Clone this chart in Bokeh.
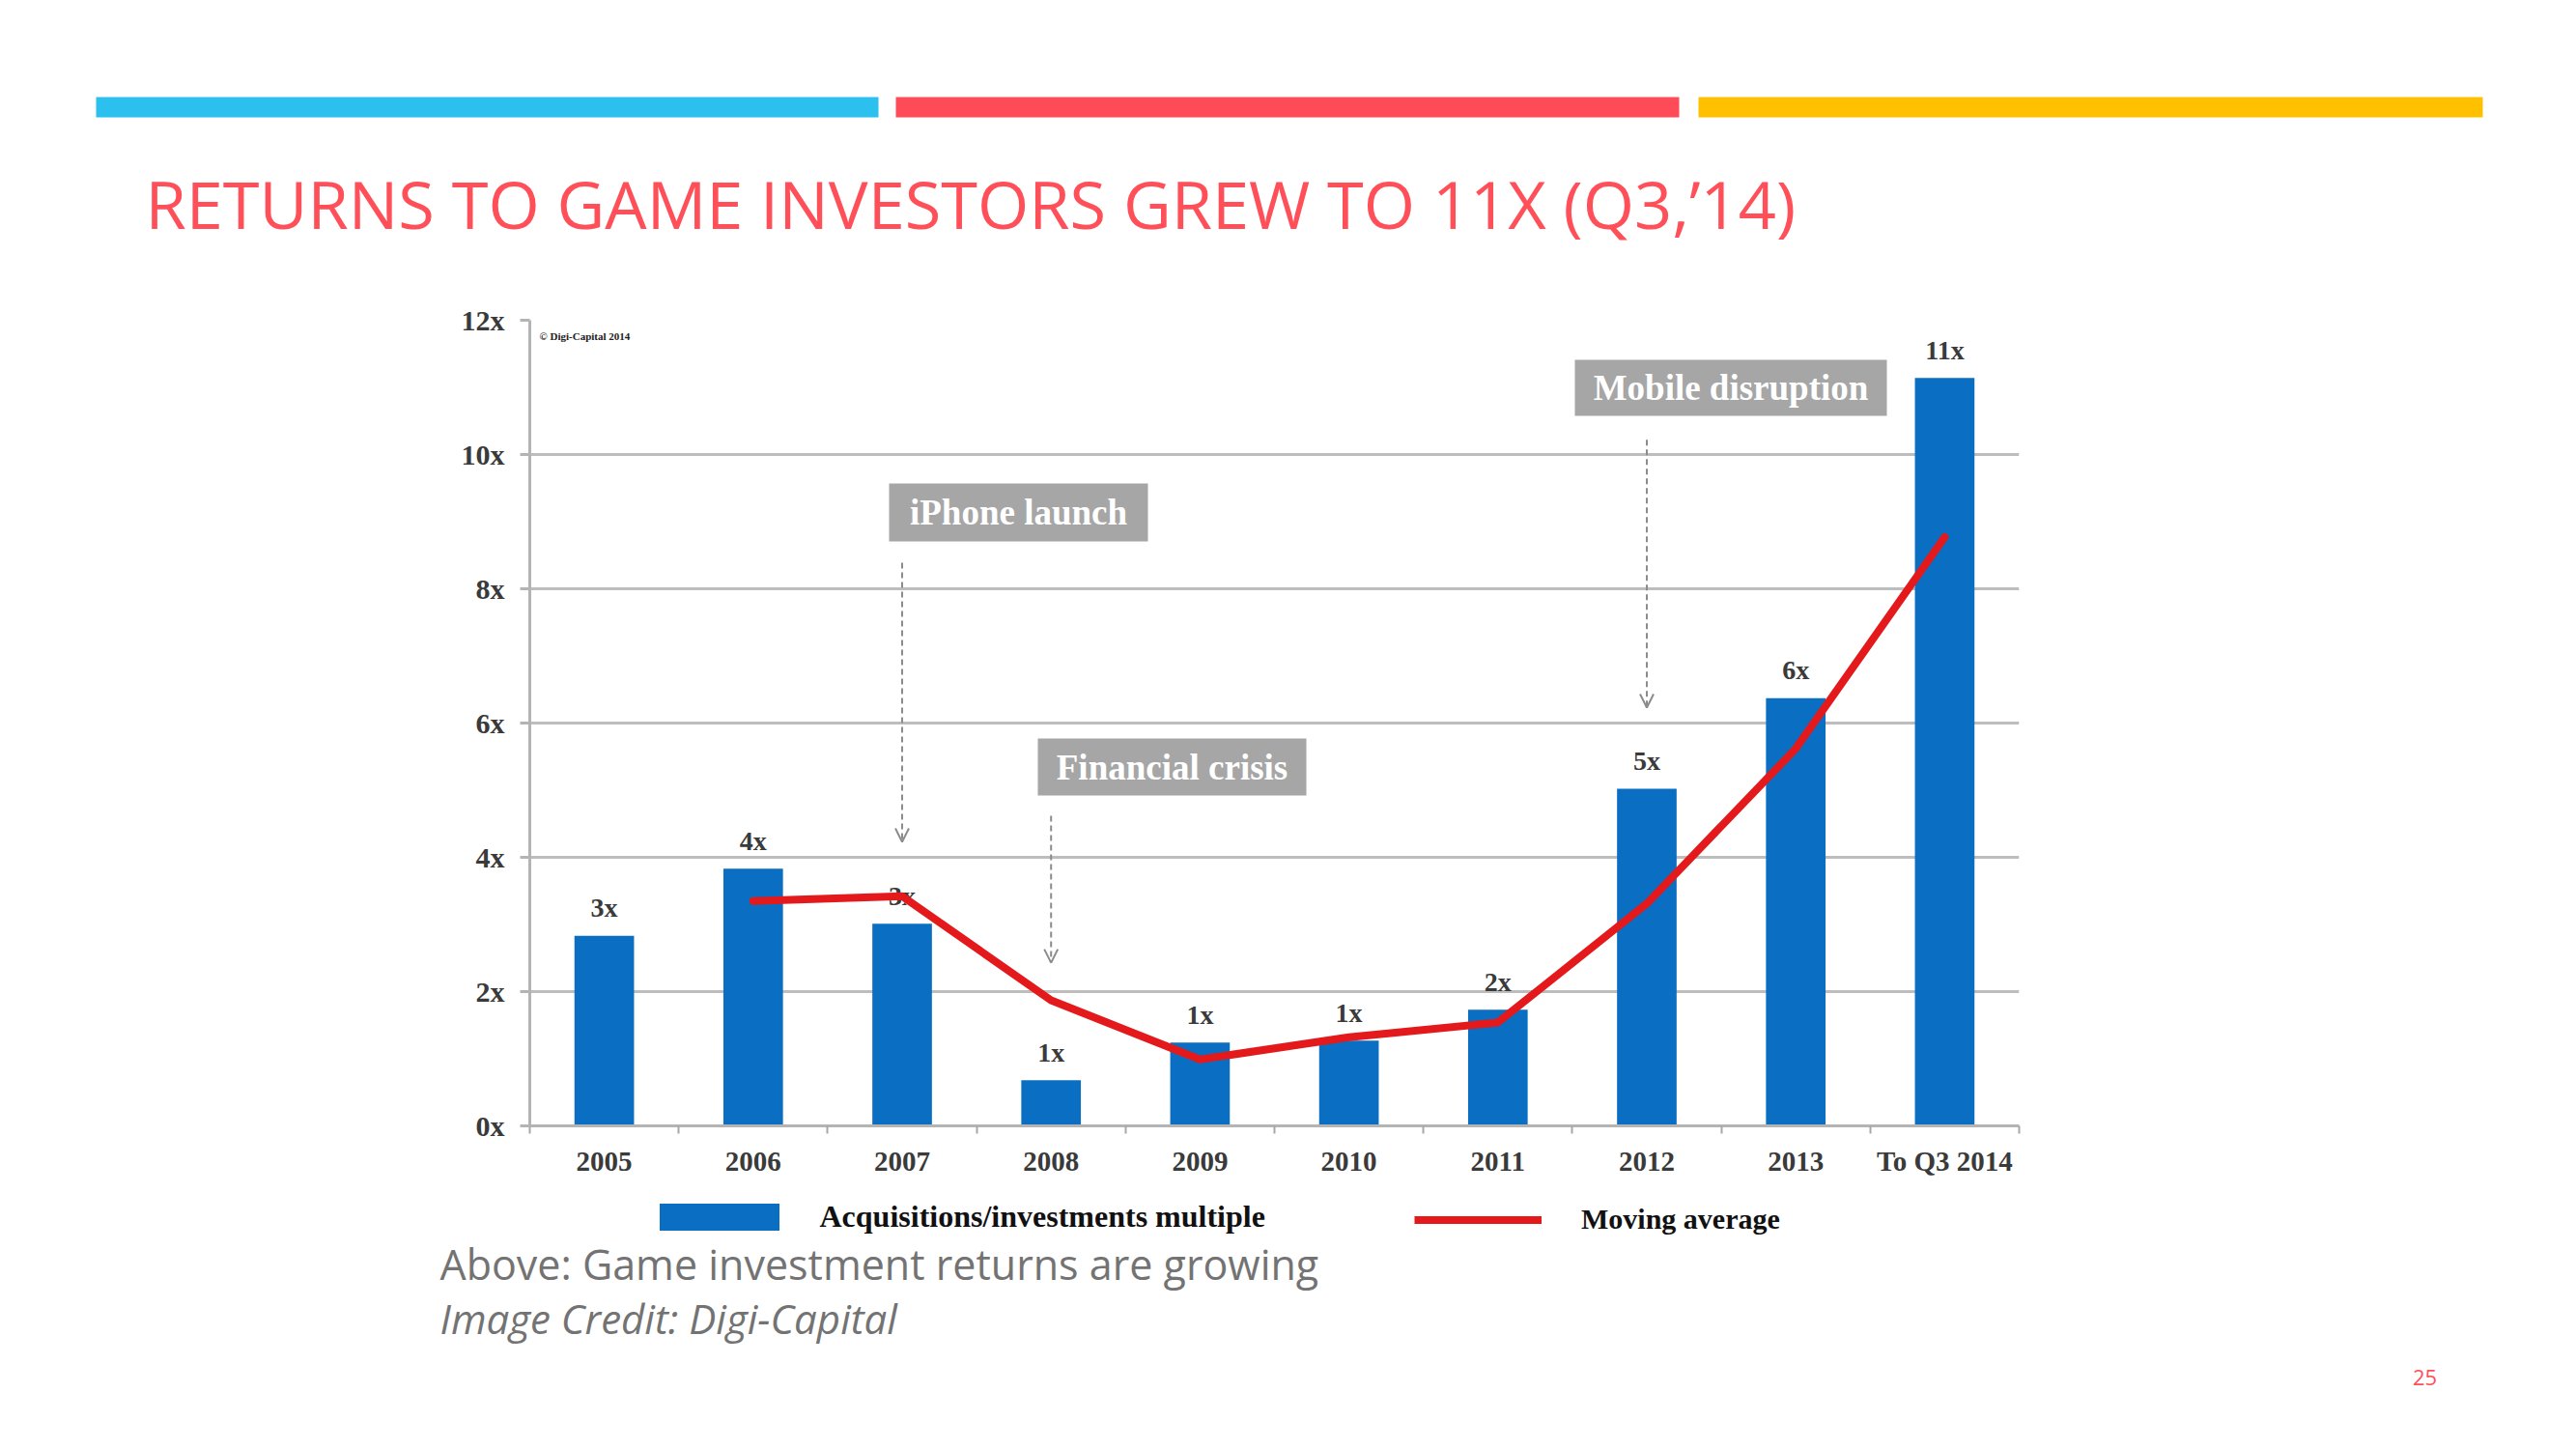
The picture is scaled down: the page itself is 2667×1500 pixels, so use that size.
from bokeh.plotting import figure
from bokeh.layouts import column
from bokeh.models import (Range1d, FixedTicker, Label, BoxAnnotation, Arrow, OpenHead,
                          Legend, LegendItem, ColumnDataSource)
from bokeh.core.properties import value
from bokeh.embed import file_html
from bokeh.resources import INLINE

# ---------------- data ----------------
categories = ["2005", "2006", "2007", "2008", "2009", "2010", "2011", "2012", "2013", "To Q3 2014"]
multiples = [2.83, 3.83, 3.01, 0.68, 1.24, 1.27, 1.73, 5.02, 6.37, 11.14]
bar_labels = ["3x", "4x", "3x", "1x", "1x", "1x", "2x", "5x", "6x", "11x"]
moving_avg = [float("nan"), 3.35, 3.42, 1.87, 0.99, 1.32, 1.54, 3.31, 5.62, 8.77]
y_ticks = [0, 2, 4, 6, 8, 10, 12]
y_tick_labels = ["0x", "2x", "4x", "6x", "8x", "10x", "12x"]
events = ["iPhone launch", "Financial crisis", "Mobile disruption"]
event_categories = ["2007", "2008", "2012"]
series_names = ["Acquisitions/investments multiple", "Moving average"]

title_text = "RETURNS TO GAME INVESTORS GREW TO 11X (Q3,\u201914)"
caption_text = "Above: Game investment returns are growing"
credit_text = "Image Credit: Digi-Capital"
copyright_text = "\u00a9 Digi-Capital 2014"
page_number = "25"

# ---------------- styling ----------------
BLUE = "#0a6fc2"
RED = "#e3191c"
CORAL = "#ff505a"
GRID = "#bdbdbd"
AXIS_TXT = "#3a3a3a"
SERIF = "Liberation Serif"
W = 2667

# page-y bands of the three stacked figures
TOP1 = 300
MID1 = 1240
BOT1 = 1500
FL, FR, FT, FB = 548, 2090, 331, 1165      # chart frame edges (page px)


def sx(px):
    return px - FL


def sy(py):
    return FB - py


def blank(y0, y1):
    f = figure(width=W, height=y1 - y0, output_backend="svg", toolbar_location=None,
               x_range=Range1d(0, W), y_range=Range1d(y1, y0),
               x_axis_location=None, y_axis_location=None, min_border=0,
               frame_align=False)
    f.outline_line_color = None
    f.grid.visible = False
    f.background_fill_color = "white"
    f.border_fill_color = "white"
    return f


# ---------------- top band: colour strips + title ----------------
top = blank(0, TOP1)
for l, r, c in [(99, 909, "#2bc0ee"), (927, 1738, "#ff4b57"), (1758, 2570, "#ffc000")]:
    top.add_layout(BoxAnnotation(left=l, right=r, top=100, bottom=121,
                                 fill_color=c, fill_alpha=1, line_color=None))
top.add_layout(Label(x=150, y=210, text=title_text, text_font="Open Sans",
                     text_font_size="68.5px", text_color=CORAL, text_baseline="alphabetic"))

# ---------------- chart ----------------
xs = [i + 0.5 for i in range(len(categories))]
src = ColumnDataSource(dict(x=xs, top=multiples, label=bar_labels, ma=moving_avg))

p = figure(width=W, height=MID1 - TOP1, output_backend="svg", toolbar_location=None,
           x_range=Range1d(0, len(categories)), y_range=Range1d(0, 12),
           min_border_left=FL, min_border_right=W - FR,
           min_border_top=FT - TOP1, min_border_bottom=MID1 - FB, frame_align=False)
p.outline_line_color = None
p.background_fill_color = "white"
p.border_fill_color = "white"

p.xaxis.ticker = FixedTicker(ticks=xs, minor_ticks=list(range(len(categories) + 1)))
p.xaxis.major_label_overrides = {x: c for x, c in zip(xs, categories)}
p.xaxis.major_tick_line_color = None
p.xaxis.major_tick_out = 0
p.xaxis.major_tick_in = 0
p.xaxis.minor_tick_line_color = "#a8a8a8"
p.xaxis.minor_tick_line_width = 2
p.xaxis.minor_tick_out = 8
p.xaxis.minor_tick_in = 0
p.xaxis.axis_line_color = "#b4b4b4"
p.xaxis.axis_line_width = 3
p.xaxis.major_label_text_font = SERIF
p.xaxis.major_label_text_font_style = "bold"
p.xaxis.major_label_text_font_size = "29px"
p.xaxis.major_label_text_color = AXIS_TXT
p.xaxis.major_label_standoff = 12

p.yaxis.ticker = FixedTicker(ticks=y_ticks, minor_ticks=[])
p.yaxis.major_label_overrides = {t: l for t, l in zip(y_ticks, y_tick_labels)}
p.yaxis.major_tick_line_color = "#b4b4b4"
p.yaxis.major_tick_line_width = 3
p.yaxis.major_tick_out = 10
p.yaxis.major_tick_in = 0
p.yaxis.minor_tick_line_color = None
p.yaxis.axis_line_color = "#b4b4b4"
p.yaxis.axis_line_width = 3
p.yaxis.major_label_text_font = SERIF
p.yaxis.major_label_text_font_style = "bold"
p.yaxis.major_label_text_font_size = "30px"
p.yaxis.major_label_text_color = AXIS_TXT
p.yaxis.major_label_standoff = 16

p.xgrid.grid_line_color = None
p.ygrid.ticker = FixedTicker(ticks=y_ticks)
p.ygrid.grid_line_color = GRID
p.ygrid.grid_line_width = 3

p.vbar(x="x", top="top", width=0.4, source=src, fill_color=BLUE, line_color=None)
p.text(x="x", y="top", text="label", source=src, text_align="center", text_baseline="alphabetic",
       y_offset=-29, text_font=value(SERIF), text_font_style="bold", text_font_size="28px",
       text_color=AXIS_TXT)
p.line(x="x", y="ma", source=src, line_color=RED, line_width=8, line_join="round",
       line_cap="round")

boxes = [(920, 1188, 500, 560), (1074, 1352, 764, 823), (1630, 1953, 372, 430)]
for txt, (l, r, t, b) in zip(events, boxes):
    p.add_layout(BoxAnnotation(left=sx(l), right=sx(r), top=sy(t), bottom=sy(b),
                               left_units="screen", right_units="screen",
                               top_units="screen", bottom_units="screen",
                               fill_color="#a6a6a6", fill_alpha=1, line_color=None))
    p.add_layout(Label(x=sx((l + r) / 2), y=sy((t + b) / 2), x_units="screen", y_units="screen",
                       text=txt, text_align="center", text_baseline="middle",
                       text_font=SERIF, text_font_style="bold", text_font_size="37px",
                       text_color="white"))

arrow_spans = [(8.39, 4.23), (4.62, 2.43), (10.22, 6.23)]
for cat, (y0, y1) in zip(event_categories, arrow_spans):
    xc = xs[categories.index(cat)]
    p.add_layout(Arrow(end=OpenHead(size=14, line_color="#8c8c8c", line_width=2),
                       x_start=xc, y_start=y0, x_end=xc, y_end=y1,
                       line_color="#8c8c8c", line_width=2, line_dash="6 4"))

p.add_layout(Label(x=sx(558), y=sy(347), x_units="screen", y_units="screen", text=copyright_text,
                   text_font=SERIF, text_font_style="bold", text_font_size="11px",
                   text_color="#222222", text_baseline="middle"))

# ---------------- bottom band: legend + caption ----------------
bot = blank(MID1, BOT1)
key_bar = bot.vbar(x="x", top="top", width=0.4, source=src, fill_color=BLUE, line_color=None,
                   visible=False)
key_line = bot.line(x="x", y="ma", source=src, line_color=RED, line_width=8, visible=False)
common = dict(padding=0, margin=0, border_line_color=None, background_fill_alpha=0,
              inactive_fill_alpha=0, label_text_font=SERIF, label_text_font_style="bold",
              label_text_color="#111111", label_height=35, click_policy="none")
bot.add_layout(Legend(items=[LegendItem(label=series_names[0], renderers=[key_bar])],
                      location=(666.5, BOT1 - 1277.5), glyph_width=155, glyph_height=35,
                      label_standoff=27, label_text_font_size="32px", **common))
bot.add_layout(Legend(items=[LegendItem(label=series_names[1], renderers=[key_line])],
                      location=(1464, BOT1 - 1279.5), glyph_width=132, glyph_height=35,
                      label_standoff=41, label_text_font_size="30px", **common))
bot.add_layout(Label(x=455, y=1308, text=caption_text, text_font="Open Sans",
                     text_font_size="43px", text_color="#737373", text_baseline="alphabetic"))
bot.add_layout(Label(x=455, y=1364, text=credit_text, text_font="Open Sans",
                     text_font_style="italic", text_font_size="42px",
                     text_color="#737373", text_baseline="alphabetic"))
bot.add_layout(Label(x=2510, y=1425, text=page_number, text_font="Open Sans",
                     text_font_size="22px", text_color=CORAL,
                     text_align="center", text_baseline="alphabetic"))

layout = column(top, p, bot, spacing=0)
open("out.html", "w").write(file_html(layout, INLINE))
